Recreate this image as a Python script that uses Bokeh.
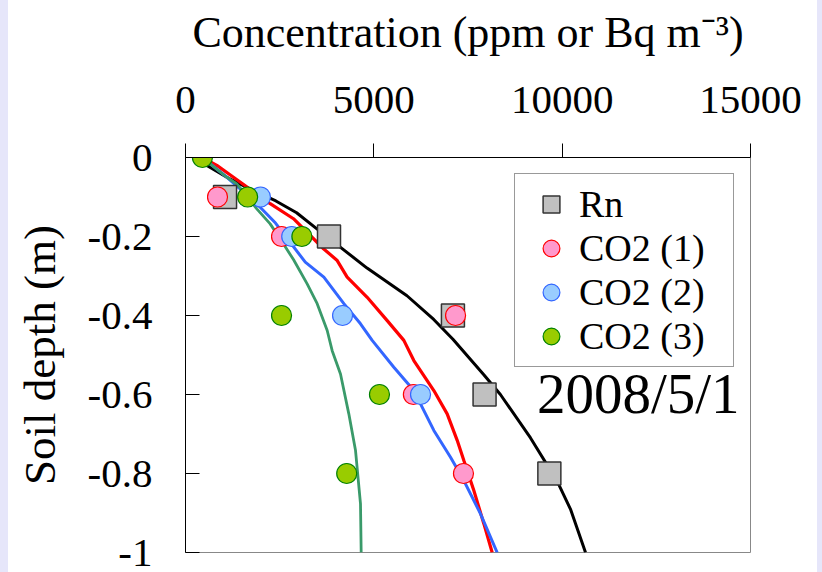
from bokeh.plotting import figure
from bokeh.models import Range1d, FixedTicker, Legend, LegendItem, Label, Spacer
from bokeh.layouts import row
from bokeh.embed import file_html
from bokeh.resources import INLINE

# ---- data ----
# model profiles (depth m, concentration)
rn_line_depth = [0, -0.02, -0.05, -0.08, -0.11, -0.14, -0.18, -0.23, -0.28, -0.35, -0.41, -0.46, -0.55, -0.60, -0.71, -0.82, -0.89, -1.0]
rn_line_conc = [350, 566, 1097, 1717, 2400, 2950, 3480, 4150, 4820, 5880, 6590, 7100, 7920, 8360, 9160, 9870, 10220, 10620]

co2a_line_depth = [0, -0.02, -0.05, -0.117, -0.155, -0.231, -0.26, -0.303, -0.354, -0.413, -0.463, -0.514, -0.59, -0.649, -0.716, -0.767, -0.843, -0.927, -1.0]
co2a_line_conc = [450, 832, 1274, 2248, 2867, 3664, 4020, 4292, 4823, 5355, 5797, 6062, 6593, 6947, 7213, 7390, 7655, 7920, 8142]

co2b_line_depth = [0, -0.05, -0.10, -0.126, -0.166, -0.265, -0.303, -0.37, -0.421, -0.463, -0.531, -0.59, -0.691, -0.759, -0.818, -0.902, -1.0]
co2b_line_conc = [450, 1100, 1700, 1982, 2390, 3180, 3673, 4204, 4646, 4956, 5531, 6062, 6593, 7036, 7390, 7832, 8274]

co2c_line_depth = [0, -0.016, -0.05, -0.067, -0.13, -0.168, -0.219, -0.259, -0.32, -0.37, -0.438, -0.489, -0.548, -0.649, -0.742, -0.877, -1.0]
co2c_line_conc = [450, 655, 1097, 1363, 1893, 2248, 2602, 2870, 3230, 3496, 3762, 3894, 4115, 4336, 4514, 4646, 4664]

# observations
rn_depth = [-0.1, -0.2, -0.4, -0.6, -0.8]
rn_conc = [1050, 3810, 7100, 7940, 9660]

co2a_depth = [-0.1, -0.2, -0.4, -0.6, -0.8]
co2a_conc = [850, 2550, 7170, 6050, 7380]

co2b_depth = [-0.1, -0.2, -0.4, -0.6]
co2b_conc = [1990, 2820, 4170, 6240]

co2c_depth = [0, -0.1, -0.2, -0.4, -0.6, -0.8]
co2c_conc = [450, 1650, 3090, 2550, 5150, 4280]

x_ticks = [0, 5000, 10000, 15000]
y_ticks = [0, -0.2, -0.4, -0.6, -0.8, -1]
y_tick_labels = ["0", "-0.2", "-0.4", "-0.6", "-0.8", "-1"]
series_names = ["Rn", "CO2 (1)", "CO2 (2)", "CO2 (3)"]
date_text = "2008/5/1"

FONT = "Liberation Serif"
PAGE_BG = "#e6e6fa"

p = figure(width=809, height=572, output_backend="svg", toolbar_location=None,
           x_range=Range1d(0, 15000), y_range=Range1d(-1, 0),
           x_axis_location="above",
           min_border_left=177, min_border_right=67, min_border_top=157, min_border_bottom=20)
p.background_fill_color = "white"
p.border_fill_color = "white"
p.outline_line_color = "#888888"
p.outline_line_width = 1
p.xgrid.visible = False
p.ygrid.visible = False

xa = p.xaxis[0]
xa.ticker = FixedTicker(ticks=x_ticks)
xa.axis_label = "Concentration (ppm or Bq m\u207b\u00b3)"
xa.axis_label_text_font = FONT
xa.axis_label_text_font_size = "44px"
xa.axis_label_text_font_style = "normal"
xa.axis_label_text_color = "black"
xa.axis_label_standoff = 27
xa.major_label_text_font = FONT
xa.major_label_text_font_size = "41px"
xa.major_label_text_color = "black"
xa.major_label_standoff = 31
xa.major_tick_out = 14
xa.major_tick_in = 0
xa.minor_tick_out = 0
xa.minor_tick_in = 0
xa.axis_line_color = "black"
xa.major_tick_line_color = "black"

ya = p.yaxis[0]
ya.ticker = FixedTicker(ticks=y_ticks)
ya.major_label_overrides = {t: l for t, l in zip(y_ticks, y_tick_labels)}
ya.axis_label = "Soil depth (m)"
ya.axis_label_text_font = FONT
ya.axis_label_text_font_size = "45px"
ya.axis_label_text_font_style = "normal"
ya.axis_label_text_color = "black"
ya.axis_label_standoff = 20
ya.major_label_text_font = FONT
ya.major_label_text_font_size = "41px"
ya.major_label_text_color = "black"
ya.major_label_standoff = 33
ya.major_tick_out = 0
ya.major_tick_in = 14
ya.minor_tick_out = 0
ya.minor_tick_in = 0
ya.axis_line_color = "black"
ya.major_tick_line_color = "black"

# model lines
p.line(rn_line_conc, rn_line_depth, line_color="black", line_width=3)
p.line(co2a_line_conc, co2a_line_depth, line_color="#ff0000", line_width=3.2)
p.line(co2b_line_conc, co2b_line_depth, line_color="#3366ff", line_width=3)
p.line(co2c_line_conc, co2c_line_depth, line_color="#3a9a6a", line_width=2.8)

# observations
r_rn = p.scatter(rn_conc, rn_depth, marker="square", size=23,
                 fill_color="#c0c0c0", line_color="#333333", line_width=1.5)
r_a = p.scatter(co2a_conc, co2a_depth, marker="circle", size=20,
                fill_color="#ff99cc", line_color="#ff0000", line_width=1.2)
r_b = p.scatter(co2b_conc, co2b_depth, marker="circle", size=20,
                fill_color="#99ccff", line_color="#3366ff", line_width=1.2)
r_c = p.scatter(co2c_conc, co2c_depth, marker="circle", size=20,
                fill_color="#99cc00", line_color="#008000", line_width=1.2)

legend = Legend(items=[LegendItem(label=n, renderers=[r]) for n, r in
                       zip(series_names, [r_rn, r_a, r_b, r_c])],
                location="top_right", margin=16, padding=8, spacing=0,
                glyph_height=42, glyph_width=56, label_standoff=0, label_width=146,
                label_text_font=FONT, label_text_font_size="38px",
                label_text_color="black",
                border_line_color="#333333", border_line_width=1,
                background_fill_color="white", background_fill_alpha=1)
p.add_layout(legend)

p.add_layout(Label(x=14710, y=-0.597, text=date_text, text_align="right",
                   text_baseline="middle", text_font=FONT,
                   text_font_size="57px", text_color="black"))

left_pad = Spacer(width=8, height=572, styles={"background-color": PAGE_BG})
right_pad = Spacer(width=5, height=572, styles={"background-color": PAGE_BG})
layout = row(left_pad, p, right_pad)

open("out.html", "w").write(file_html(layout, INLINE))
